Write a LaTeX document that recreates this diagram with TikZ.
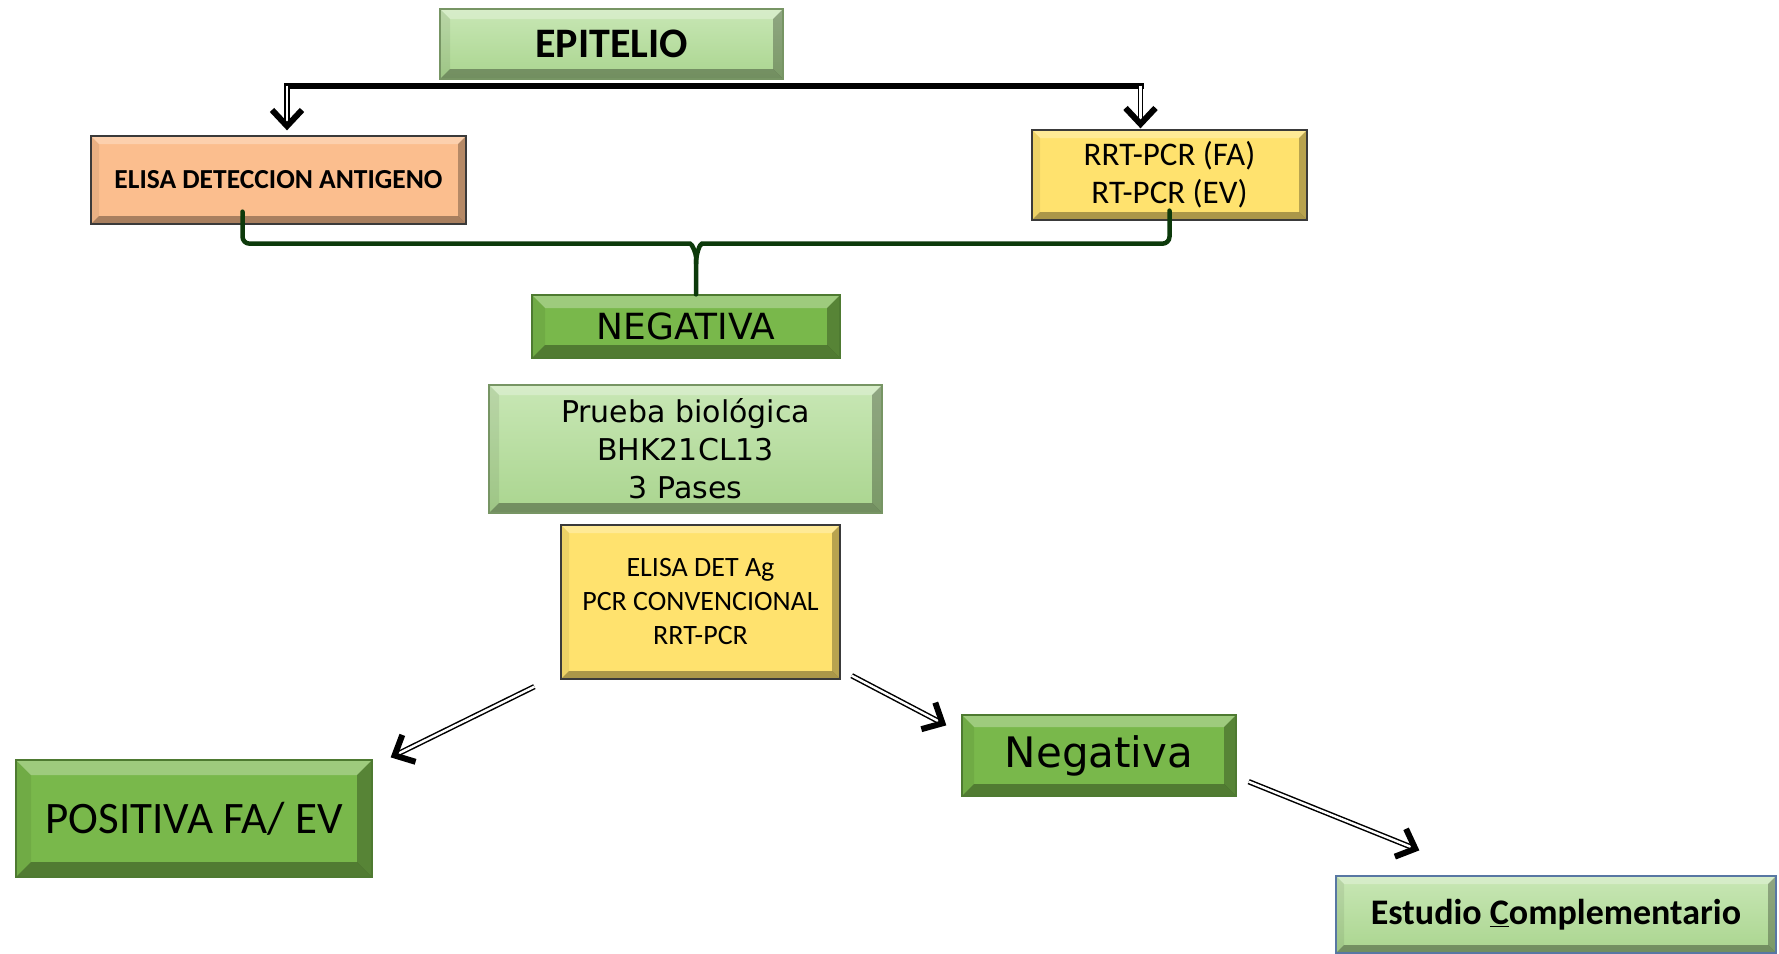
\documentclass[tikz,border=0pt]{standalone}
\usepackage{fontspec}
\setmainfont{Carlito}
\newfontfamily\dv{DejaVu Sans}
\usetikzlibrary{arrows.meta}
\definecolor{lgtop}{HTML}{C8E7B5}
\definecolor{lgbot}{HTML}{AAD58F}
\definecolor{grn}{HTML}{79B84B}
\definecolor{grnline}{HTML}{4E7A31}
\definecolor{peach}{HTML}{FBBE8E}
\definecolor{yel}{HTML}{FFE26E}
\definecolor{darkline}{HTML}{3A3A3A}
\definecolor{bluline}{HTML}{5877A3}
\definecolor{bracec}{HTML}{0D3A0B}
\newcommand\bevelpic[1]{%
  \coordinate (bsw) at (path picture bounding box.south west);
  \coordinate (bne) at (path picture bounding box.north east);
  \coordinate (bnw) at (path picture bounding box.north west);
  \coordinate (bse) at (path picture bounding box.south east);
  \coordinate (isw) at ([xshift=#1,yshift=#1]bsw);
  \coordinate (ine) at ([xshift=-#1,yshift=-#1]bne);
  \coordinate (inw) at ([xshift=#1,yshift=-#1]bnw);
  \coordinate (ise) at ([xshift=-#1,yshift=#1]bse);
  \fill[white,opacity=.28] (bnw) -- (bne) -- (ine) -- (inw) -- cycle;
  \fill[black,opacity=.07] (bnw) -- (inw) -- (isw) -- (bsw) -- cycle;
  \fill[black,opacity=.33] (bsw) -- (isw) -- (ise) -- (bse) -- cycle;
  \fill[black,opacity=.28] (bse) -- (ise) -- (ine) -- (bne) -- cycle;
}
\tikzset{
  box/.style={draw, line width=1.3pt, inner sep=0pt, align=center, text=black},
  bevel/.style={path picture={\bevelpic{#1}}},
  lgbox/.style={box, draw=lgbot!70!black, top color=lgtop, bottom color=lgbot},
  gbox/.style={box, draw=grnline, fill=grn},
  pbox/.style={box, draw=darkline, fill=peach},
  ybox/.style={box, draw=darkline, fill=yel},
  bar/.style={draw=black, line width=6pt, line cap=rect},
  dbl/.style={draw=black, line width=1.5pt, double=white, double distance=2.4pt,
    -{Straight Barb[length=16pt,width=30pt,line width=6pt]}},
  bracel/.style={draw=bracec, line width=4.5pt, line cap=round, rounded corners=7pt}
}
\begin{document}
\begin{tikzpicture}[x=1pt,y=-1pt]
\fill[white] (0,0) rectangle (1779,953);
\useasboundingbox (0,0) rectangle (1779,953);

% nodes
\node[lgbox, bevel=10pt, minimum width=343pt, minimum height=70pt,
  font=\fontsize{42}{50}\selectfont\bfseries] (epi) at (611.5,44) {EPITELIO};
\node[pbox, bevel=8pt, minimum width=375pt, minimum height=88pt,
  font=\fontsize{27.5}{32}\selectfont\bfseries] (elisa) at (278.5,180) {ELISA DETECCION ANTIGENO};
\node[ybox, bevel=8pt, minimum width=275pt, minimum height=90pt,
  font=\fontsize{33}{38}\selectfont] (rrt) at (1169.5,175) {RRT-PCR (FA)\\RT-PCR (EV)};
\node[gbox, bevel=13pt, minimum width=308pt, minimum height=63pt,
  font=\dv\fontsize{36}{42}\selectfont] (neg1) at (686,326.5) {NEGATIVA};
\node[lgbox, bevel=10pt, minimum width=393pt, minimum height=128pt,
  font=\dv\fontsize{30}{38}\selectfont] (prueba) at (685.5,449) {Prueba biológica\\BHK21CL13\\3 Pases};
\node[ybox, bevel=8pt, minimum width=279pt, minimum height=154pt,
  font=\fontsize{28}{34}\selectfont] (det) at (700.5,602) {ELISA DET Ag\\PCR CONVENCIONAL\\RRT-PCR};
\node[gbox, bevel=15pt, minimum width=356pt, minimum height=117pt,
  font=\fontsize{45}{54}\selectfont] (pos) at (194,818.5) {POSITIVA FA/ EV};
\node[gbox, bevel=12pt, minimum width=274pt, minimum height=81pt,
  font=\dv\fontsize{42}{48}\selectfont] (neg2) at (1099,755.5) {Negativa};
\node[lgbox, draw=bluline, bevel=8pt, minimum width=440pt, minimum height=77pt,
  font=\fontsize{36}{42}\selectfont\bfseries] (est) at (1556,914.5) {Estudio \underline{C}omplementario};

% EPITELIO split
\coordinate (bary) at ([yshift=-6pt]epi.south);
\coordinate (inL) at ([xshift=8.5pt,yshift=5pt]elisa.north);
\coordinate (inR) at ([xshift=-29pt,yshift=1pt]rrt.north);
\draw[bar] (inL |- bary) -- (inR |- bary);
\draw[dbl] (inL |- bary) -- (inL);
\draw[dbl] (inR |- bary) -- (inR);

% brace to NEGATIVA
\coordinate (bL) at ([xshift=-36pt,yshift=13pt]elisa.south);
\coordinate (bR) at ([yshift=10pt]rrt.south);
\coordinate (by) at ([yshift=-19pt]elisa.south);
\coordinate (bM) at ([xshift=10pt]neg1.north);
\coordinate (cusp) at (bM |- by);
\draw[bracel] (bL) -- (bL |- by) -- ([xshift=-13pt]cusp) to[out=0,in=90] ([yshift=-20pt]cusp) -- (bM);
\draw[bracel] (bR) -- (bR |- by) -- ([xshift=13pt]cusp) to[out=180,in=90] ([yshift=-20pt]cusp);

% lower arrows
\coordinate (a1s) at ([xshift=-26pt,yshift=-7pt]det.south west);
\coordinate (a1e) at ([xshift=18pt,yshift=2pt]pos.north east);
\coordinate (a2s) at ([xshift=11pt,yshift=4pt]det.south east);
\coordinate (a2e) at ([xshift=-15pt,yshift=-11pt]neg2.north west);
\coordinate (a3s) at ([xshift=12pt,yshift=15pt]neg2.south east);
\coordinate (a3e) at ([xshift=84pt,yshift=25pt]est.north west);
\draw[dbl] (a1s) -- (a1e);
\draw[dbl] (a2s) -- (a2e);
\draw[dbl] (a3s) -- (a3e);
\end{tikzpicture}
\end{document}
